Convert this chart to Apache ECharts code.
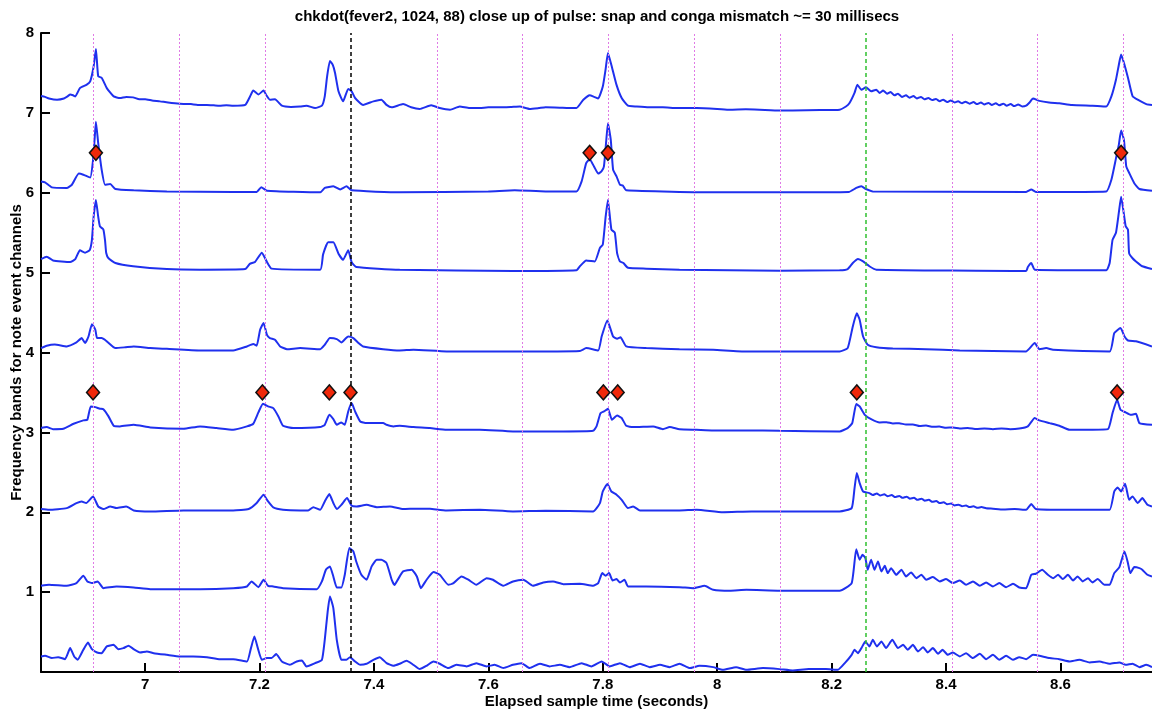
<!DOCTYPE html>
<html>
<head>
<meta charset="utf-8">
<script src="https://cdn.jsdelivr.net/npm/echarts@6/dist/echarts.min.js"></script>
<style>
html,body{margin:0;padding:0;background:#fff;}
#chart{width:1152px;height:711px;}
</style>
</head>
<body>
<div id="chart"></div>
<script>
var titleText = 'chkdot(fever2, 1024, 88) close up of pulse: snap and conga mismatch ~= 30 millisecs';
var xName = 'Elapsed sample time (seconds)';
var yName = 'Frequency bands for note event channels';
var xTicks = [7, 7.2, 7.4, 7.6, 7.8, 8, 8.2, 8.4, 8.6];
var yTicks = [1, 2, 3, 4, 5, 6, 7, 8];

// pulse grid times (dotted), the snap line (black) and conga line (green)
var pulseTimes = [6.914, 7.064, 7.213, 7.512, 7.661, 7.810, 7.959, 8.109, 8.407, 8.556, 8.707];
var snapTime = [7.3616];
var congaTime = [8.2582];

// detected onsets
var onsetsHigh = [[6.914, 6.5], [7.777, 6.5], [7.809, 6.5], [8.706, 6.5]];
var onsetsLow = [[6.909, 3.5], [7.205, 3.5], [7.322, 3.5], [7.359, 3.5], [7.801, 3.5], [7.826, 3.5], [8.244, 3.5], [8.699, 3.5]];

var ch7 = [[6.818,7.21],[6.825,7.2],[6.832,7.18],[6.846,7.165],[6.858,7.18],[6.865,7.21],[6.869,7.23],[6.874,7.22],[6.878,7.206],[6.886,7.31],[6.898,7.353],[6.904,7.394],[6.910,7.58],[6.914,7.80],[6.918,7.457],[6.924,7.44],[6.933,7.31],[6.945,7.206],[6.956,7.186],[6.967,7.2],[6.979,7.194],[6.990,7.17],[7.000,7.17],[7.012,7.155],[7.026,7.144],[7.040,7.13],[7.061,7.115],[7.080,7.11],[7.092,7.1],[7.108,7.10],[7.120,7.095],[7.130,7.09],[7.142,7.095],[7.154,7.09],[7.175,7.10],[7.183,7.2],[7.189,7.28],[7.198,7.23],[7.207,7.28],[7.212,7.22],[7.218,7.165],[7.227,7.17],[7.239,7.09],[7.255,7.075],[7.271,7.08],[7.282,7.09],[7.297,7.06],[7.309,7.09],[7.314,7.206],[7.318,7.45],[7.323,7.65],[7.328,7.6],[7.332,7.50],[7.338,7.27],[7.346,7.144],[7.355,7.30],[7.361,7.27],[7.367,7.186],[7.381,7.10],[7.399,7.144],[7.413,7.165],[7.422,7.10],[7.431,7.07],[7.451,7.11],[7.465,7.07],[7.48,7.05],[7.50,7.095],[7.515,7.06],[7.533,7.04],[7.55,7.08],[7.567,7.06],[7.585,7.06],[7.60,7.07],[7.62,7.07],[7.64,7.075],[7.655,7.08],[7.672,7.05],[7.688,7.06],[7.70,7.07],[7.725,7.065],[7.740,7.06],[7.754,7.06],[7.766,7.165],[7.777,7.22],[7.785,7.2],[7.792,7.18],[7.80,7.33],[7.805,7.55],[7.809,7.75],[7.815,7.60],[7.824,7.35],[7.833,7.186],[7.844,7.09],[7.859,7.08],[7.88,7.07],[7.905,7.07],[7.93,7.06],[7.964,7.06],[8.0,7.05],[8.022,7.04],[8.05,7.045],[8.074,7.04],[8.109,7.03],[8.132,7.03],[8.18,7.035],[8.214,7.04],[8.225,7.08],[8.231,7.12],[8.240,7.25],[8.245,7.353],[8.252,7.29],[8.260,7.32],[8.269,7.27],[8.278,7.29],[8.284,7.25],[8.290,7.28],[8.297,7.24],[8.303,7.26],[8.310,7.22],[8.316,7.24],[8.323,7.20],[8.330,7.22],[8.336,7.19],[8.343,7.21],[8.349,7.18],[8.356,7.20],[8.362,7.17],[8.369,7.185],[8.376,7.16],[8.382,7.175],[8.389,7.145],[8.395,7.165],[8.402,7.135],[8.408,7.155],[8.415,7.13],[8.421,7.145],[8.428,7.12],[8.434,7.14],[8.441,7.115],[8.448,7.135],[8.454,7.11],[8.461,7.13],[8.467,7.105],[8.474,7.125],[8.480,7.10],[8.487,7.12],[8.493,7.095],[8.500,7.115],[8.506,7.09],[8.513,7.11],[8.519,7.085],[8.526,7.105],[8.533,7.08],[8.540,7.09],[8.546,7.13],[8.552,7.18],[8.563,7.15],[8.58,7.13],[8.598,7.12],[8.62,7.10],[8.656,7.09],[8.68,7.08],[8.689,7.206],[8.697,7.415],[8.702,7.6],[8.706,7.73],[8.712,7.60],[8.718,7.44],[8.726,7.21],[8.735,7.165],[8.75,7.11],[8.76,7.10]];

var ch6 = [[6.818,6.14],[6.825,6.13],[6.837,6.067],[6.863,6.06],[6.872,6.10],[6.884,6.24],[6.892,6.226],[6.904,6.19],[6.909,6.41],[6.912,6.7],[6.914,6.89],[6.918,6.62],[6.924,6.29],[6.930,6.10],[6.939,6.11],[6.948,6.047],[6.98,6.03],[7.038,6.017],[7.154,6.01],[7.195,6.01],[7.203,6.07],[7.213,6.025],[7.306,6.005],[7.314,6.06],[7.329,6.08],[7.341,6.04],[7.352,6.08],[7.361,6.03],[7.445,6.005],[7.60,6.017],[7.646,6.03],[7.70,6.017],[7.754,6.017],[7.763,6.142],[7.771,6.37],[7.777,6.42],[7.786,6.31],[7.792,6.24],[7.798,6.27],[7.802,6.33],[7.806,6.65],[7.809,6.87],[7.814,6.66],[7.818,6.29],[7.824,6.205],[7.830,6.10],[7.835,6.09],[7.841,6.03],[8.0,6.005],[8.109,6.005],[8.230,6.01],[8.243,6.06],[8.252,6.08],[8.260,6.047],[8.272,6.017],[8.540,6.01],[8.549,6.04],[8.557,6.01],[8.680,6.017],[8.689,6.163],[8.697,6.43],[8.702,6.6],[8.706,6.78],[8.711,6.66],[8.715,6.33],[8.720,6.25],[8.729,6.12],[8.738,6.047],[8.76,6.025]];

var ch5 = [[6.818,5.17],[6.828,5.20],[6.839,5.153],[6.869,5.133],[6.878,5.17],[6.886,5.28],[6.895,5.25],[6.903,5.28],[6.907,5.41],[6.910,5.70],[6.914,5.91],[6.918,5.70],[6.921,5.58],[6.927,5.54],[6.930,5.40],[6.932,5.245],[6.936,5.18],[6.948,5.12],[6.979,5.08],[7.038,5.045],[7.096,5.037],[7.175,5.045],[7.183,5.11],[7.192,5.133],[7.204,5.25],[7.213,5.133],[7.221,5.05],[7.306,5.037],[7.311,5.225],[7.320,5.38],[7.329,5.38],[7.338,5.237],[7.346,5.16],[7.355,5.28],[7.361,5.13],[7.369,5.07],[7.445,5.037],[7.643,5.02],[7.754,5.03],[7.760,5.08],[7.771,5.153],[7.786,5.14],[7.795,5.31],[7.800,5.35],[7.805,5.70],[7.809,5.91],[7.815,5.54],[7.821,5.50],[7.825,5.245],[7.830,5.14],[7.836,5.12],[7.844,5.06],[7.876,5.05],[7.934,5.037],[8.109,5.025],[8.214,5.03],[8.228,5.045],[8.237,5.12],[8.246,5.17],[8.255,5.14],[8.266,5.08],[8.278,5.037],[8.540,5.02],[8.543,5.07],[8.549,5.12],[8.555,5.037],[8.680,5.03],[8.686,5.12],[8.691,5.41],[8.697,5.50],[8.702,5.75],[8.706,5.95],[8.714,5.58],[8.718,5.537],[8.720,5.245],[8.726,5.18],[8.732,5.14],[8.743,5.08],[8.76,5.045]];

var ch4 = [[6.818,4.055],[6.828,4.085],[6.842,4.10],[6.863,4.076],[6.880,4.126],[6.889,4.18],[6.895,4.118],[6.901,4.20],[6.907,4.355],[6.913,4.285],[6.916,4.18],[6.924,4.18],[6.933,4.14],[6.948,4.055],[6.965,4.065],[6.98,4.076],[7.009,4.055],[7.038,4.046],[7.096,4.026],[7.154,4.026],[7.178,4.076],[7.189,4.105],[7.195,4.085],[7.201,4.285],[7.207,4.37],[7.213,4.22],[7.218,4.18],[7.227,4.16],[7.236,4.076],[7.248,4.042],[7.271,4.055],[7.306,4.042],[7.314,4.097],[7.323,4.18],[7.335,4.168],[7.343,4.126],[7.355,4.20],[7.364,4.18],[7.373,4.118],[7.381,4.076],[7.416,4.042],[7.445,4.026],[7.469,4.034],[7.527,4.013],[7.643,4.013],[7.760,4.02],[7.771,4.055],[7.792,4.026],[7.798,4.20],[7.808,4.40],[7.818,4.20],[7.825,4.172],[7.831,4.19],[7.841,4.076],[7.876,4.055],[7.934,4.042],[7.993,4.034],[8.051,4.013],[8.109,4.013],[8.214,4.013],[8.228,4.055],[8.237,4.327],[8.244,4.49],[8.249,4.41],[8.255,4.20],[8.263,4.097],[8.278,4.067],[8.307,4.05],[8.365,4.042],[8.424,4.026],[8.540,4.013],[8.555,4.118],[8.563,4.042],[8.575,4.055],[8.587,4.034],[8.686,4.013],[8.694,4.243],[8.705,4.306],[8.712,4.20],[8.718,4.15],[8.732,4.14],[8.76,4.076]];

var ch3 = [[6.818,3.054],[6.828,3.066],[6.839,3.04],[6.857,3.045],[6.875,3.108],[6.892,3.15],[6.899,3.158],[6.905,3.325],[6.913,3.316],[6.921,3.296],[6.927,3.29],[6.936,3.20],[6.945,3.083],[6.956,3.075],[6.98,3.095],[7.009,3.062],[7.067,3.045],[7.096,3.075],[7.125,3.054],[7.154,3.033],[7.178,3.075],[7.189,3.108],[7.198,3.25],[7.206,3.358],[7.215,3.325],[7.224,3.304],[7.233,3.20],[7.241,3.083],[7.259,3.054],[7.306,3.066],[7.314,3.095],[7.322,3.22],[7.329,3.166],[7.335,3.095],[7.343,3.125],[7.349,3.095],[7.355,3.262],[7.361,3.367],[7.367,3.262],[7.376,3.137],[7.387,3.116],[7.416,3.116],[7.422,3.095],[7.434,3.075],[7.445,3.083],[7.469,3.066],[7.498,3.054],[7.527,3.033],[7.585,3.033],[7.643,3.012],[7.731,3.012],[7.783,3.02],[7.789,3.075],[7.796,3.241],[7.802,3.262],[7.809,3.296],[7.816,3.158],[7.825,3.212],[7.833,3.18],[7.841,3.083],[7.853,3.066],[7.888,3.075],[7.905,3.04],[7.917,3.066],[7.934,3.04],[7.964,3.033],[7.993,3.025],[8.051,3.025],[8.109,3.02],[8.214,3.012],[8.228,3.054],[8.236,3.116],[8.243,3.354],[8.249,3.325],[8.258,3.22],[8.269,3.166],[8.284,3.125],[8.296,3.128],[8.307,3.112],[8.318,3.115],[8.330,3.098],[8.342,3.1],[8.354,3.08],[8.365,3.085],[8.377,3.07],[8.388,3.072],[8.400,3.058],[8.412,3.062],[8.424,3.05],[8.438,3.055],[8.453,3.042],[8.467,3.05],[8.482,3.04],[8.497,3.05],[8.512,3.04],[8.528,3.048],[8.543,3.075],[8.555,3.18],[8.563,3.15],[8.581,3.116],[8.598,3.083],[8.616,3.033],[8.656,3.033],[8.683,3.04],[8.691,3.241],[8.699,3.408],[8.705,3.283],[8.714,3.25],[8.723,3.22],[8.732,3.233],[8.738,3.116],[8.76,3.095]];

var ch2 = [[6.818,2.04],[6.832,2.031],[6.863,2.052],[6.880,2.115],[6.889,2.135],[6.897,2.115],[6.909,2.198],[6.918,2.072],[6.927,2.04],[6.939,2.072],[6.950,2.052],[6.967,2.072],[6.98,2.023],[7.009,2.01],[7.067,2.023],[7.154,2.023],[7.181,2.04],[7.195,2.115],[7.207,2.22],[7.215,2.135],[7.224,2.06],[7.241,2.031],[7.271,2.023],[7.285,2.023],[7.294,2.064],[7.306,2.031],[7.314,2.135],[7.322,2.227],[7.329,2.115],[7.335,2.04],[7.343,2.093],[7.353,2.177],[7.361,2.08],[7.369,2.072],[7.387,2.093],[7.405,2.064],[7.428,2.072],[7.451,2.04],[7.475,2.045],[7.498,2.043],[7.527,2.023],[7.585,2.031],[7.643,2.01],[7.70,2.02],[7.783,2.01],[7.795,2.115],[7.80,2.26],[7.808,2.353],[7.815,2.26],[7.824,2.22],[7.833,2.156],[7.844,2.052],[7.853,2.072],[7.865,2.023],[7.934,2.023],[7.964,2.031],[8.010,2.0],[8.06,2.01],[8.109,2.01],[8.214,2.01],[8.235,2.052],[8.240,2.3],[8.244,2.49],[8.249,2.365],[8.255,2.26],[8.266,2.24],[8.272,2.215],[8.279,2.235],[8.285,2.21],[8.292,2.225],[8.298,2.20],[8.305,2.215],[8.311,2.19],[8.318,2.205],[8.324,2.18],[8.331,2.195],[8.337,2.17],[8.344,2.18],[8.350,2.155],[8.357,2.17],[8.363,2.145],[8.370,2.155],[8.376,2.13],[8.383,2.14],[8.389,2.115],[8.396,2.125],[8.402,2.10],[8.409,2.11],[8.415,2.085],[8.422,2.095],[8.428,2.075],[8.435,2.085],[8.441,2.065],[8.448,2.075],[8.455,2.055],[8.462,2.065],[8.470,2.05],[8.482,2.045],[8.50,2.035],[8.52,2.04],[8.540,2.031],[8.549,2.102],[8.557,2.04],[8.598,2.031],[8.656,2.031],[8.686,2.031],[8.694,2.26],[8.70,2.31],[8.706,2.26],[8.713,2.357],[8.72,2.156],[8.726,2.198],[8.735,2.115],[8.743,2.177],[8.752,2.093],[8.76,2.072]];

var ch1 = [[6.818,1.079],[6.832,1.092],[6.863,1.079],[6.880,1.113],[6.892,1.205],[6.899,1.134],[6.907,1.113],[6.917,1.134],[6.927,1.05],[6.950,1.071],[6.98,1.058],[7.009,1.037],[7.038,1.037],[7.096,1.037],[7.154,1.05],[7.178,1.071],[7.186,1.134],[7.198,1.062],[7.207,1.155],[7.215,1.079],[7.224,1.071],[7.241,1.05],[7.30,1.037],[7.309,1.134],[7.316,1.28],[7.323,1.322],[7.329,1.196],[7.335,1.058],[7.343,1.058],[7.349,1.217],[7.357,1.551],[7.364,1.51],[7.369,1.384],[7.378,1.217],[7.387,1.155],[7.396,1.322],[7.405,1.405],[7.413,1.405],[7.422,1.363],[7.431,1.155],[7.436,1.09],[7.442,1.16],[7.451,1.259],[7.466,1.28],[7.475,1.196],[7.482,1.05],[7.492,1.155],[7.504,1.251],[7.515,1.217],[7.53,1.092],[7.539,1.113],[7.553,1.196],[7.565,1.155],[7.579,1.092],[7.597,1.175],[7.608,1.155],[7.626,1.079],[7.643,1.134],[7.661,1.155],[7.678,1.079],[7.696,1.121],[7.713,1.134],[7.731,1.10],[7.76,1.104],[7.783,1.079],[7.792,1.113],[7.799,1.238],[7.805,1.205],[7.811,1.238],[7.817,1.146],[7.824,1.163],[7.830,1.121],[7.838,1.155],[7.844,1.071],[7.876,1.071],[7.934,1.062],[7.958,1.05],[7.978,1.079],[7.993,1.029],[8.022,1.017],[8.051,1.029],[8.109,1.017],[8.214,1.017],[8.235,1.113],[8.243,1.538],[8.249,1.405],[8.254,1.468],[8.259,1.426],[8.263,1.28],[8.269,1.405],[8.275,1.28],[8.281,1.384],[8.287,1.259],[8.293,1.33],[8.298,1.238],[8.304,1.30],[8.313,1.217],[8.322,1.28],[8.330,1.196],[8.339,1.247],[8.348,1.175],[8.357,1.217],[8.365,1.155],[8.377,1.188],[8.389,1.134],[8.40,1.163],[8.412,1.113],[8.424,1.146],[8.435,1.092],[8.447,1.134],[8.459,1.079],[8.47,1.121],[8.482,1.071],[8.493,1.113],[8.505,1.062],[8.517,1.104],[8.528,1.058],[8.54,1.05],[8.549,1.217],[8.557,1.23],[8.568,1.28],[8.578,1.217],[8.587,1.175],[8.596,1.217],[8.604,1.163],[8.613,1.217],[8.622,1.146],[8.63,1.196],[8.639,1.134],[8.648,1.175],[8.656,1.121],[8.665,1.163],[8.677,1.092],[8.686,1.092],[8.694,1.238],[8.703,1.313],[8.712,1.51],[8.718,1.363],[8.722,1.238],[8.729,1.313],[8.738,1.30],[8.743,1.28],[8.752,1.217],[8.76,1.196]];

var ch0 = [[6.818,0.195],[6.825,0.203],[6.837,0.174],[6.848,0.186],[6.860,0.161],[6.869,0.299],[6.876,0.195],[6.882,0.153],[6.892,0.278],[6.900,0.37],[6.907,0.286],[6.916,0.244],[6.924,0.236],[6.933,0.32],[6.945,0.34],[6.953,0.286],[6.962,0.299],[6.971,0.328],[6.98,0.286],[6.991,0.244],[7.003,0.257],[7.015,0.236],[7.038,0.215],[7.061,0.195],[7.084,0.195],[7.108,0.186],[7.131,0.161],[7.154,0.161],[7.178,0.132],[7.185,0.299],[7.191,0.445],[7.197,0.299],[7.204,0.153],[7.213,0.174],[7.221,0.174],[7.229,0.224],[7.239,0.132],[7.253,0.09],[7.265,0.132],[7.274,0.145],[7.282,0.07],[7.297,0.111],[7.309,0.153],[7.314,0.403],[7.319,0.75],[7.323,0.946],[7.329,0.80],[7.335,0.403],[7.343,0.153],[7.352,0.153],[7.358,0.186],[7.367,0.132],[7.376,0.09],[7.387,0.103],[7.399,0.153],[7.41,0.186],[7.422,0.111],[7.434,0.078],[7.445,0.103],[7.457,0.14],[7.469,0.09],[7.48,0.036],[7.492,0.078],[7.504,0.132],[7.515,0.103],[7.53,0.049],[7.544,0.09],[7.562,0.07],[7.579,0.111],[7.597,0.07],[7.611,0.09],[7.626,0.049],[7.643,0.09],[7.658,0.111],[7.672,0.049],[7.69,0.103],[7.707,0.07],[7.725,0.09],[7.742,0.061],[7.763,0.111],[7.78,0.07],[7.798,0.132],[7.812,0.07],[7.83,0.111],[7.847,0.061],[7.865,0.103],[7.882,0.061],[7.90,0.09],[7.917,0.061],[7.934,0.103],[7.952,0.049],[7.969,0.078],[7.993,0.061],[8.01,0.028],[8.033,0.061],[8.051,0.028],[8.08,0.049],[8.109,0.036],[8.132,0.02],[8.16,0.036],[8.19,0.036],[8.211,0.028],[8.223,0.111],[8.235,0.215],[8.24,0.278],[8.246,0.236],[8.252,0.299],[8.259,0.382],[8.266,0.32],[8.272,0.403],[8.279,0.32],[8.287,0.382],[8.295,0.299],[8.306,0.403],[8.316,0.299],[8.325,0.34],[8.333,0.278],[8.342,0.34],[8.351,0.257],[8.36,0.311],[8.368,0.244],[8.377,0.299],[8.386,0.228],[8.394,0.278],[8.403,0.215],[8.412,0.244],[8.424,0.195],[8.435,0.236],[8.447,0.174],[8.459,0.228],[8.47,0.161],[8.482,0.215],[8.493,0.153],[8.505,0.203],[8.517,0.153],[8.528,0.186],[8.54,0.161],[8.552,0.215],[8.563,0.203],[8.581,0.174],[8.598,0.161],[8.616,0.132],[8.633,0.153],[8.651,0.12],[8.668,0.132],[8.686,0.103],[8.703,0.12],[8.714,0.09],[8.726,0.103],[8.738,0.061],[8.75,0.09],[8.76,0.061]];

var channels = [ch0, ch1, ch2, ch3, ch4, ch5, ch6, ch7];

var FONT = '"Liberation Sans", Arial, Helvetica, sans-serif';
var chart = echarts.init(document.getElementById('chart'), null, {renderer: 'canvas'});

var vLines = [];
pulseTimes.forEach(function (t) {
  vLines.push({xAxis: t, lineStyle: {color: '#e07ae6', width: 1, type: [2, 2]}});
});
snapTime.forEach(function (t) {
  vLines.push({xAxis: t, lineStyle: {color: '#000000', width: 1.5, type: [4, 3]}});
});
congaTime.forEach(function (t) {
  vLines.push({xAxis: t, lineStyle: {color: '#2fc02f', width: 1.5, type: [4, 3]}});
});

var series = [{
  type: 'line',
  data: [],
  silent: true,
  z: 1,
  markLine: {
    silent: true,
    symbol: ['none', 'none'],
    label: {show: false},
    animation: false,
    data: vLines
  }
}];
channels.forEach(function (ch) {
  series.push({
    type: 'line',
    data: ch,
    showSymbol: false,
    symbol: 'none',
    smooth: 0.15,
    z: 3,
    lineStyle: {color: '#1f30ee', width: 2},
    silent: true
  });
});
series.push({
  type: 'scatter',
  data: onsetsHigh.concat(onsetsLow),
  symbol: 'diamond',
  symbolSize: [13, 15],
  z: 5,
  itemStyle: {color: '#f0280a', borderColor: '#111111', borderWidth: 1.5, opacity: 1}
});

var option = {
  animation: false,
  backgroundColor: '#ffffff',
  title: {
    text: titleText,
    left: 592,
    textAlign: 'center',
    top: 4,
    textStyle: {fontFamily: FONT, fontSize: 15, fontWeight: 'bold', color: '#000'}
  },
  grid: {left: 41, right: 0, top: 33, bottom: 39, containLabel: false, outerBoundsMode: 'none'},
  xAxis: {
    type: 'value',
    min: 6.818,
    max: 8.76,
    name: xName,
    nameLocation: 'middle',
    nameGap: 22,
    nameMoveOverlap: false,
    nameTextStyle: {fontFamily: FONT, fontSize: 15, fontWeight: 'bold', color: '#000'},
    axisLine: {show: true, lineStyle: {color: '#000', width: 2}},
    axisTick: {show: true, inside: true, length: 9, customValues: xTicks, lineStyle: {color: '#000', width: 2}},
    axisLabel: {show: true, customValues: xTicks, margin: 5, fontFamily: FONT, fontSize: 15, fontWeight: 'bold', color: '#000',
      formatter: function (v) { return String(Math.round(v * 10) / 10); }},
    splitLine: {show: false}
  },
  yAxis: {
    type: 'value',
    min: 0,
    max: 8,
    interval: 1,
    name: yName,
    nameLocation: 'middle',
    nameGap: 17,
    nameRotate: 90,
    nameMoveOverlap: false,
    nameTextStyle: {fontFamily: FONT, fontSize: 15, fontWeight: 'bold', color: '#000'},
    axisLine: {show: true, lineStyle: {color: '#000', width: 2}},
    axisTick: {show: true, inside: true, length: 9, customValues: yTicks, lineStyle: {color: '#000', width: 2}},
    axisLabel: {show: true, customValues: yTicks, margin: 7, fontFamily: FONT, fontSize: 15, fontWeight: 'bold', color: '#000'},
    splitLine: {show: false}
  },
  series: series
};
chart.setOption(option);
</script>
</body>
</html>
